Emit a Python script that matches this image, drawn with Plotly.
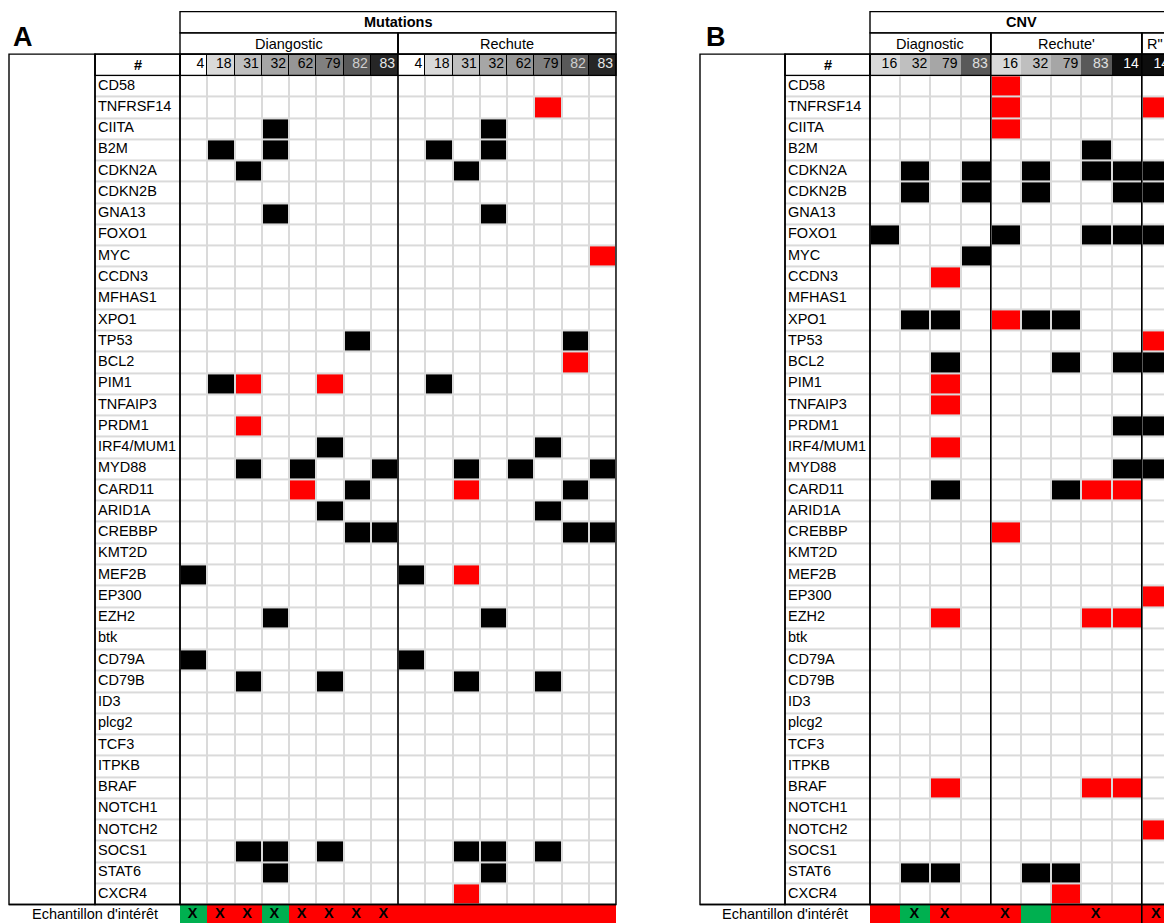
import plotly.graph_objects as go

# ---------------- data ----------------
genes = ["CD58", "TNFRSF14", "CIITA", "B2M", "CDKN2A", "CDKN2B", "GNA13", "FOXO1", "MYC",
         "CCDN3", "MFHAS1", "XPO1", "TP53", "BCL2", "PIM1", "TNFAIP3", "PRDM1", "IRF4/MUM1",
         "MYD88", "CARD11", "ARID1A", "CREBBP", "KMT2D", "MEF2B", "EP300", "EZH2", "btk",
         "CD79A", "CD79B", "ID3", "plcg2", "TCF3", "ITPKB", "BRAF", "NOTCH1", "NOTCH2",
         "SOCS1", "STAT6", "CXCR4"]

# '.' = no event, 'B' = black event, 'R' = red event
mut_samples = ["4", "18", "31", "32", "62", "79", "82", "83"]
mut_diag = ["........", "........", "...B....", ".B.B....", "..B.....", "........", "...B....",
            "........", "........", "........", "........", "........", "......B.", "........",
            ".BR..R..", "........", "..R.....", ".....B..", "..B.B..B", "....R.B.", ".....B..",
            "......BB", "........", "B.......", "........", "...B....", "........", "B.......",
            "..B..B..", "........", "........", "........", "........", "........", "........",
            "........", "..BB.B..", "...B....", "........"]
mut_rel = ["........", ".....R..", "...B....", ".B.B....", "..B.....", "........", "...B....",
           "........", ".......R", "........", "........", "........", "......B.", "......R.",
           ".B......", "........", "........", ".....B..", "..B.B..B", "..R...B.", ".....B..",
           "......BB", "........", "B.R.....", "........", "...B....", "........", "B.......",
           "..B..B..", "........", "........", "........", "........", "........", "........",
           "........", "..BB.B..", "...B....", "..R....."]

cnv_diag_samples = ["16", "32", "79", "83"]
cnv_rel_samples = ["16", "32", "79", "83", "14"]
cnv_r2_samples = ["14"]
cnv_diag = ["....", "....", "....", "....", ".B.B", ".B.B", "....", "B...", "...B", "..R.",
            "....", ".BB.", "....", "..B.", "..R.", "..R.", "....", "..R.", "....", "..B.",
            "....", "....", "....", "....", "....", "..R.", "....", "....", "....", "....",
            "....", "....", "....", "..R.", "....", "....", "....", ".BB.", "...."]
cnv_rel = ["R....", "R....", "R....", "...B.", ".B.BB", ".B..B", ".....", "B..BB", ".....",
           ".....", ".....", "RBB..", ".....", "..B.B", ".....", ".....", "....B", ".....",
           "....B", "..BRR", ".....", "R....", ".....", ".....", ".....", "...RR", ".....",
           ".....", ".....", ".....", ".....", ".....", ".....", "...RR", ".....", ".....",
           ".....", ".BB..", "..R.."]
cnv_r2 = [".", "R", ".", ".", "B", "B", ".", "B", ".", ".", ".", ".", "R", "B", ".", ".", "B",
          ".", "B", ".", ".", ".", ".", ".", "R", ".", ".", ".", ".", ".", ".", ".", ".", ".",
          ".", "R", ".", ".", "."]

# sample of interest row: fill G = green, R = red ; mark X
mut_interest_diag, mut_mark_diag = "GRRGRRRR", "XXXXXXXX"
mut_interest_rel, mut_mark_rel = "RRRRRRRR", "........"
cnv_interest_diag, cnv_mark_diag = "RGRR", ".XX."
cnv_interest_rel, cnv_mark_rel = "RGRRR", "X..X."
cnv_interest_r2, cnv_mark_r2 = "R", "X"

# header shading per sample
mut_shades = ["#ffffff", "#d9d9d9", "#bfbfbf", "#a6a6a6", "#969696", "#808080", "#595959", "#262626"]
mut_shade_text = ["#000000"] * 6 + ["#d0d0d0", "#e8e8e8"]
cnv_diag_shades = ["#d9d9d9", "#bfbfbf", "#a6a6a6", "#595959"]
cnv_diag_text = ["#000000", "#000000", "#000000", "#e0e0e0"]
cnv_rel_shades = ["#d9d9d9", "#bfbfbf", "#a6a6a6", "#595959", "#0d0d0d"]
cnv_rel_text = ["#000000", "#000000", "#000000", "#e0e0e0", "#ffffff"]
cnv_r2_shades = ["#0d0d0d"]
cnv_r2_text = ["#ffffff"]

# ---------------- layout helpers ----------------
FONT = "Liberation Sans"
FS = 14.5
W, H = 1172, 923
OFF = 8  # page body margin
ROW_H = 21.26
Y0 = 75.4
NG = len(genes)
CODE = {".": 0, "B": 1, "R": 2, "G": 3}
EVENT_CS = [[0, "#ffffff"], [1 / 3, "#000000"], [2 / 3, "#ff0000"], [1, "#00b050"]]
GRID = "#dadada"


def ytop(k):
    return Y0 + k * ROW_H


def ymid(k):
    return Y0 + (k + 0.5) * ROW_H


fig = go.Figure()
shapes = []
annotations = []


def line(x0, y0, x1, y1, w=1.4, color="black"):
    shapes.append(dict(type="line", xref="x", yref="y", x0=x0, y0=y0, x1=x1, y1=y1,
                       line=dict(color=color, width=w)))


def box(x0, y0, x1, y1, fill=None, w=1.4, layer="above"):
    shapes.append(dict(type="rect", xref="x", yref="y", x0=x0, y0=y0, x1=x1, y1=y1,
                       layer=layer, fillcolor=fill if fill else "rgba(0,0,0,0)",
                       line=dict(color="black", width=w if w else 0)))


def text(x, y, s, size=FS, bold=False, anchor="center", color="black"):
    annotations.append(dict(x=x, y=y, xref="x", yref="y", text=("<b>%s</b>" % s) if bold else s,
                            showarrow=False, xanchor=anchor, yanchor="middle",
                            font=dict(family=FONT, size=size, color=color)))


def panel(letter, letter_x, left, gx, dx0, cw, title, groups, header_gaps, right_ext):
    ncols = sum(len(g["samples"]) for g in groups)
    right = dx0 + ncols * cw
    r_draw = right + right_ext
    # gray grid background behind gene column + data
    shapes.append(dict(type="rect", xref="x", yref="y", x0=gx, x1=right, y0=ytop(0), y1=ytop(NG),
                       layer="below", fillcolor=GRID, line=dict(width=0)))
    if header_gaps:
        shapes.append(dict(type="rect", xref="x", yref="y", x0=dx0, x1=right, y0=ytop(-1),
                           y1=ytop(0), layer="below", fillcolor="#000000", line=dict(width=0)))
    # gene name column cells
    fig.add_trace(go.Heatmap(z=[[0] for _ in genes], x0=(gx + dx0) / 2, dx=dx0 - gx,
                             y0=ymid(0), dy=ROW_H, zmin=0, zmax=3, colorscale=EVENT_CS,
                             showscale=False, ygap=2, hoverinfo="skip"))
    fig.add_trace(go.Scatter(x=[gx + 3] * NG, y=[ymid(i) for i in range(NG)], text=genes,
                             mode="text", textposition="middle right",
                             textfont=dict(family=FONT, size=FS, color="black"), hoverinfo="skip"))
    # event matrix
    z = []
    for i in range(NG):
        rowvals = []
        for g in groups:
            rowvals += [CODE[c] for c in g["rows"][i]]
        z.append(rowvals)
    fig.add_trace(go.Heatmap(z=z, x0=dx0 + cw / 2, dx=cw, y0=ymid(0), dy=ROW_H, zmin=0, zmax=3,
                             colorscale=EVENT_CS, showscale=False, xgap=2, ygap=2,
                             hoverinfo="skip"))
    # header shading
    shades, tcols, labels = [], [], []
    for g in groups:
        shades += g["shades"]
        tcols += g["tcols"]
        labels += g["samples"]
    uniq = []
    for s in shades:
        if s not in uniq:
            uniq.append(s)
    n = len(uniq)
    cs = [[i / (n - 1), c] for i, c in enumerate(uniq)]
    fig.add_trace(go.Heatmap(z=[[uniq.index(s) for s in shades]], x0=dx0 + cw / 2, dx=cw,
                             y0=ymid(-1), dy=ROW_H, zmin=0, zmax=n - 1, colorscale=cs,
                             showscale=False, xgap=1 if header_gaps else 0, hoverinfo="skip"))
    fig.add_trace(go.Scatter(x=[dx0 + (j + 1) * cw - 3 for j in range(ncols)],
                             y=[ymid(-1)] * ncols, text=labels, mode="text",
                             textposition="middle left",
                             textfont=dict(family=FONT, size=FS - 0.5, color=tcols),
                             hoverinfo="skip"))
    # sample-of-interest row
    fills, marks = "", ""
    for g in groups:
        fills += g["fill"]
        marks += g["mark"]
    fig.add_trace(go.Heatmap(z=[[CODE[c] for c in fills]], x0=dx0 + cw / 2, dx=cw,
                             y0=ymid(NG), dy=ROW_H, zmin=0, zmax=3, colorscale=EVENT_CS,
                             showscale=False, hoverinfo="skip"))
    xs = [dx0 + (j + 0.5) * cw - 1 for j, m in enumerate(marks) if m == "X"]
    fig.add_trace(go.Scatter(x=xs, y=[ymid(NG) - 1] * len(xs), text=["<b>X</b>"] * len(xs),
                             mode="text", textposition="middle center",
                             textfont=dict(family=FONT, size=FS, color="black"),
                             hoverinfo="skip"))
    text((left + dx0) / 2, ymid(NG) - 1, "Echantillon d'intérêt")
    # borders and header texts
    box(dx0, ytop(-3), r_draw, ytop(-2))
    text((dx0 + right) / 2, ymid(-3), title, bold=True)
    x = dx0
    for g in groups:
        x1 = x + len(g["samples"]) * cw
        box(x, ytop(-2), x1 if x1 < right else r_draw, ytop(-1))
        if g.get("label_left"):
            text(x + 3, ymid(-2), g["name"], anchor="left")
        else:
            text((x + x1) / 2, ymid(-2), g["name"])
        if x > dx0:
            line(x, ytop(-2), x, ytop(NG + (1 if g.get("sep_bottom") else 0)), w=1.6)
        x = x1
    box(dx0, ytop(-1), r_draw, ytop(0))
    box(gx, ytop(-1), dx0, ytop(0))
    text((gx + dx0) / 2, ymid(-1), "#", bold=True)
    box(left, ytop(-1), gx, ytop(NG))
    box(gx, ytop(-1), dx0, ytop(NG))
    box(dx0, ytop(-1), r_draw, ytop(NG))
    line(left, ytop(NG), r_draw, ytop(NG))
    annotations.append(dict(x=letter_x, y=37, xref="x", yref="y", text="<b>%s</b>" % letter,
                            showarrow=False, xanchor="center", yanchor="middle",
                            font=dict(family=FONT, size=27, color="black")))


panel("A", 23, 9, 95, 180, 27.25, "Mutations", [
    dict(name="Diangostic", samples=mut_samples, shades=mut_shades, tcols=mut_shade_text,
         rows=mut_diag, fill=mut_interest_diag, mark=mut_mark_diag),
    dict(name="Rechute", samples=mut_samples, shades=mut_shades, tcols=mut_shade_text,
         rows=mut_rel, fill=mut_interest_rel, mark=mut_mark_rel),
], header_gaps=True, right_ext=0)

panel("B", 716, 700, 785, 870, 30.2, "CNV", [
    dict(name="Diagnostic", samples=cnv_diag_samples, shades=cnv_diag_shades, tcols=cnv_diag_text,
         rows=cnv_diag, fill=cnv_interest_diag, mark=cnv_mark_diag),
    dict(name="Rechute'", samples=cnv_rel_samples, shades=cnv_rel_shades, tcols=cnv_rel_text,
         rows=cnv_rel, fill=cnv_interest_rel, mark=cnv_mark_rel),
    dict(name="R\"", samples=cnv_r2_samples, shades=cnv_r2_shades, tcols=cnv_r2_text,
         rows=cnv_r2, fill=cnv_interest_r2, mark=cnv_mark_r2, label_left=True, sep_bottom=True),
], header_gaps=False, right_ext=30)

# the page body has an 8px margin: the plot is shifted so that axis units equal screen pixels
fig.update_layout(
    width=W - OFF, height=H - OFF, margin=dict(l=0, r=0, t=0, b=0),
    paper_bgcolor="white", plot_bgcolor="white", showlegend=False,
    xaxis=dict(range=[OFF, W], visible=False, fixedrange=True),
    yaxis=dict(range=[H, OFF], visible=False, fixedrange=True),
    shapes=shapes, annotations=annotations,
)
fig.write_html("out.html")
